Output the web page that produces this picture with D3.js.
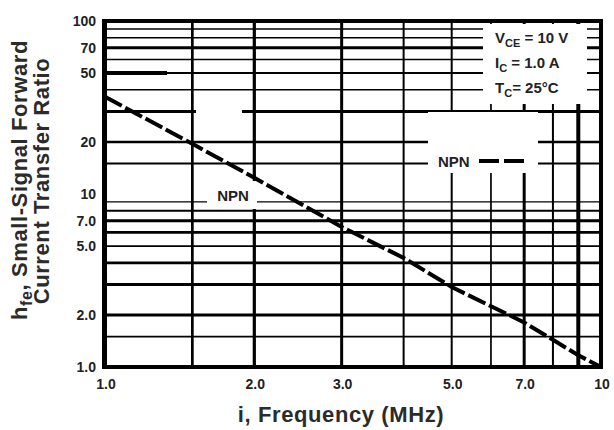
<!DOCTYPE html>
<html lang="en">
<head>
<meta charset="UTF-8" />
<title>hfe vs Frequency</title>
<style>
  body { margin: 0; background: #fff; }
  text { font-family: "Liberation Sans", Arial, sans-serif; font-weight: bold; fill: #222; }
  .tick { font-size: 14px; }
  .note { font-size: 15px; }
  .title { font-size: 22px; letter-spacing: 0.6px; fill: #2b2b2b; }
</style>
</head>
<body>
<div id="chart"></div>
<script src="https://cdn.jsdelivr.net/npm/d3@7/dist/d3.min.js"></script>
<script>
// values
var freq = [1.0, 1.5, 2.0, 3.0, 4.0, 5.0, 7.0, 9.0, 10];
var hfe  = [36.5, 19.5, 12.4, 6.45, 4.27, 2.9, 1.81, 1.17, 1.0];

var xTicks = [1, 2, 3, 5, 7, 10];
var xTickLabels = ["1.0", "2.0", "3.0", "5.0", "7.0", "10"];
var yTicks = [1, 2, 5, 7, 10, 20, 50, 70, 100];
var yTickLabels = ["1.0", "2.0", "5.0", "7.0", "10", "20", "50", "70", "100"];

var xGrid = [1.5, 2, 3, 4, 5, 6, 7, 8, 9];
var yGrid = [1.5, 2, 3, 4, 5, 6, 7, 8, 9, 15, 20, 30, 40, 50, 60, 70, 80, 90];

// line weights of the printed grid (style only)
var xWeight = {1.5: 2.7, 2: 3.2, 3: 3, 4: 2, 5: 2, 6: 1.7, 7: 3, 8: 2, 9: 4};
var yWeight = {1.5: 1.7, 2: 3, 3: 3, 4: 2.7, 5: 1.7, 6: 2.7, 7: 3, 8: 2, 9: 1.4,
               15: 2, 20: 2.5, 30: 3, 40: 1.5, 50: 2, 60: 1.5, 70: 3, 80: 1.5, 90: 1.5};

var w = 614, h = 430;
var margin = {top: 21, right: 13, bottom: 63, left: 105};

var svg = d3.select("#chart").append("svg")
    .attr("width", w)
    .attr("height", h);

var xScale = d3.scaleLog()
    .domain([1, 10])
    .range([margin.left, w - margin.right]);
var yScale = d3.scaleLog()
    .domain([1, 100])
    .range([h - margin.bottom, margin.top]);

var x0 = xScale(1), x1 = xScale(10), y0 = yScale(1), y1 = yScale(100);

svg.append("clipPath").attr("id", "plot")
  .append("rect")
    .attr("x", x0).attr("y", y1)
    .attr("width", x1 - x0).attr("height", y0 - y1);

// grid
svg.append("g").selectAll("line")
  .data(yGrid)
  .enter()
  .append("line")
    .attr("x1", x0).attr("x2", x1)
    .attr("y1", function(d) { return yScale(d); })
    .attr("y2", function(d) { return yScale(d); })
    .attr("stroke", "#000")
    .attr("stroke-width", function(d) { return yWeight[d]; });

svg.append("g").selectAll("line")
  .data(xGrid)
  .enter()
  .append("line")
    .attr("y1", y1).attr("y2", y0)
    .attr("x1", function(d) { return xScale(d); })
    .attr("x2", function(d) { return xScale(d); })
    .attr("stroke", "#000")
    .attr("stroke-width", function(d) { return xWeight[d]; });

// printing quirks: heavy stub on the 50 line, gap in the 30 line
svg.append("line")
    .attr("x1", x0).attr("x2", 167)
    .attr("y1", yScale(50)).attr("y2", yScale(50))
    .attr("stroke", "#000").attr("stroke-width", 4);
svg.append("rect")
    .attr("x", 196).attr("width", 46)
    .attr("y", yScale(30) - 3).attr("height", 6)
    .attr("fill", "#fff");

// white label areas
svg.append("rect").attr("x", 483).attr("y", 24).attr("width", 104).attr("height", 80).attr("fill", "#fff");
svg.append("rect").attr("x", 428).attr("y", 112).attr("width", 110).attr("height", 61).attr("fill", "#fff");
svg.append("rect").attr("x", 207).attr("y", 181).attr("width", 50).attr("height", 28).attr("fill", "#fff");

// frame
svg.append("rect")
    .attr("x", x0).attr("y", y1)
    .attr("width", x1 - x0).attr("height", y0 - y1)
    .attr("fill", "none")
    .attr("stroke", "#000")
    .attr("stroke-width", 4);
svg.append("line")
    .attr("x1", x0 - 0.5).attr("x2", x0 - 0.5)
    .attr("y1", y1 - 2).attr("y2", y0 + 2)
    .attr("stroke", "#000").attr("stroke-width", 5);

// curve
var points = freq.map(function(f, i) { return [f, hfe[i]]; });
var line = d3.line()
    .x(function(d) { return xScale(d[0]); })
    .y(function(d) { return yScale(d[1]); });

svg.append("path")
    .datum(points)
    .attr("clip-path", "url(#plot)")
    .attr("d", line)
    .attr("fill", "none")
    .attr("stroke", "#000")
    .attr("stroke-width", 4)
    .attr("stroke-dasharray", "19,4");

// tick labels
svg.append("g").selectAll("text")
  .data(xTicks)
  .enter()
  .append("text")
    .attr("class", "tick")
    .attr("x", function(d) { return xScale(d) + 1; })
    .attr("y", 389)
    .attr("text-anchor", "middle")
    .text(function(d, i) { return xTickLabels[i]; });

svg.append("g").selectAll("text")
  .data(yTicks)
  .enter()
  .append("text")
    .attr("class", "tick")
    .attr("x", 96)
    .attr("y", function(d) { return yScale(d); })
    .attr("dy", "0.36em")
    .attr("text-anchor", "end")
    .text(function(d, i) { return yTickLabels[i]; });

// conditions box
var notes = [["V", "CE", " = 10 V"], ["I", "C", " = 1.0 A"], ["T", "C", "= 25\u00B0C"]];
svg.append("g").selectAll("text")
  .data(notes)
  .enter()
  .append("text")
    .attr("class", "note")
    .attr("x", 495)
    .attr("y", function(d, i) { return 43 + i * 25; })
    .each(function(d) {
      var t = d3.select(this);
      t.append("tspan").text(d[0]);
      t.append("tspan").attr("dy", 4).style("font-size", "11px").text(d[1]);
      t.append("tspan").attr("dy", -4).text(d[2]);
    });

// NPN labels
svg.append("text").attr("class", "note")
    .attr("x", 438).attr("y", 167).text("NPN");
svg.append("line")
    .attr("x1", 479).attr("x2", 524)
    .attr("y1", 161).attr("y2", 161)
    .attr("stroke", "#000").attr("stroke-width", 4)
    .attr("stroke-dasharray", "20,5");
svg.append("text").attr("class", "note")
    .attr("x", 233).attr("y", 201)
    .attr("text-anchor", "middle")
    .text("NPN");

// axis titles
svg.append("text")
    .attr("class", "title")
    .attr("x", 341).attr("y", 422)
    .attr("text-anchor", "middle")
    .text("i, Frequency (MHz)");

var yTitle = svg.append("text")
    .attr("class", "title")
    .attr("text-anchor", "middle")
    .attr("transform", "translate(27,180)rotate(-90)");
yTitle.append("tspan").text("h");
yTitle.append("tspan").attr("dy", 5).style("font-size", "16px").text("fe");
yTitle.append("tspan").attr("dy", -5).text(", Small-Signal Forward");

svg.append("text")
    .attr("class", "title")
    .attr("text-anchor", "middle")
    .attr("transform", "translate(49,181)rotate(-90)")
    .text("Current Transfer Ratio");
</script>
</body>
</html>
